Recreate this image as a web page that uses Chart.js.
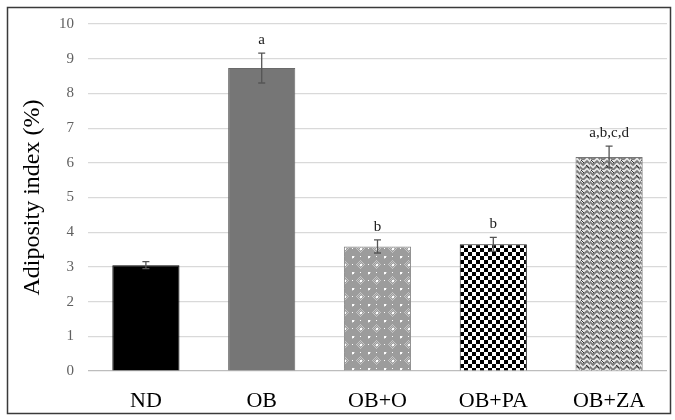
<!DOCTYPE html>
<html>
<head>
<meta charset="utf-8">
<script src="https://cdn.jsdelivr.net/npm/chart.js@4.4.1/dist/chart.umd.min.js"></script>
<style>
  html, body { margin: 0; padding: 0; background: #fff; }
  #wrap { width: 675px; height: 420px; position: relative; }
</style>
</head>
<body>
<div id="wrap"><canvas id="c" width="675" height="420"></canvas></div>
<script>
const groups = ["ND", "OB", "OB+O", "OB+PA", "OB+ZA"];
const adiposity = [3.05, 8.73, 3.59, 3.65, 6.17];
const errors = [0.10, 0.43, 0.19, 0.20, 0.31];
const letters = ["", "a", "b", "b", "a,b,c,d"];
const yTicks = [0, 1, 2, 3, 4, 5, 6, 7, 8, 9, 10];

const FONT = "'Liberation Serif', 'Times New Roman', serif";

function makeTile(w, h, draw) {
  const t = document.createElement("canvas");
  t.width = w; t.height = h;
  draw(t.getContext("2d"));
  return document.getElementById("c").getContext("2d").createPattern(t, "repeat");
}

// fine gray dither with white dots
const dotPattern = makeTile(16, 16, g => {
  g.fillStyle = "#9c9c9c";
  g.fillRect(0, 0, 16, 16);
  g.fillStyle = "#c4c4c4";
  for (let y = 0; y < 16; y++)
    for (let x = 0; x < 16; x++)
      if ((x + y) % 2 === 0 && (Math.abs(x - 8) + Math.abs(y - 8) < 5 || x + y < 3)) g.fillRect(x, y, 1, 1);
  g.fillStyle = "#ffffff";
  g.fillRect(0, 0, 2, 2);
  g.fillRect(8, 8, 2, 2);
  g.fillRect(8, 0, 1, 1);
  g.fillRect(0, 8, 1, 1);
});

// checkerboard
const checkPattern = makeTile(8, 8, g => {
  g.fillStyle = "#ffffff";
  g.fillRect(0, 0, 8, 8);
  g.fillStyle = "#000000";
  g.fillRect(0, 0, 4, 4);
  g.fillRect(4, 4, 4, 4);
});

// herringbone / zigzag
const zigPattern = makeTile(10, 10, g => {
  g.fillStyle = "#e6e6e6";
  g.fillRect(0, 0, 10, 10);
  g.strokeStyle = "#7a7a7a";
  g.lineWidth = 1.8;
  g.beginPath();
  g.moveTo(-1, 1); g.lineTo(3, 5); g.lineTo(7, 1); g.lineTo(11, 5);
  g.moveTo(-1, 6); g.lineTo(3, 10); g.lineTo(7, 6); g.lineTo(11, 10);
  g.stroke();
  g.strokeStyle = "#222222";
  g.lineWidth = 0.9;
  g.beginPath();
  g.moveTo(1, 0); g.lineTo(4, 3);
  g.moveTo(6, 5); g.lineTo(9, 8);
  g.stroke();
});

const barColors = ["#000000", "#767676", dotPattern, checkPattern, zigPattern];
const barBorders = ["#000000", "#6a6a6a", "#888888", "#222222", "#777777"];

const frame = {
  id: "frame",
  afterDraw(chart) {
    const g = chart.ctx;
    g.save();
    g.strokeStyle = "#3a3a3a";
    g.lineWidth = 1.5;
    g.strokeRect(7.5, 7.5, 663, 406);
    g.restore();
  }
};

const errorBars = {
  id: "errorBars",
  afterDatasetsDraw(chart) {
    const g = chart.ctx;
    const y = chart.scales.y;
    const meta = chart.getDatasetMeta(0);
    g.save();
    g.strokeStyle = "#555555";
    g.lineWidth = 1.3;
    meta.data.forEach((bar, i) => {
      const top = y.getPixelForValue(adiposity[i] + errors[i]);
      const bot = y.getPixelForValue(adiposity[i] - errors[i]);
      g.beginPath();
      g.moveTo(bar.x, top); g.lineTo(bar.x, bot);
      g.moveTo(bar.x - 3.5, top); g.lineTo(bar.x + 3.5, top);
      g.moveTo(bar.x - 3.5, bot); g.lineTo(bar.x + 3.5, bot);
      g.stroke();
      if (letters[i]) {
        g.fillStyle = "#1a1a1a";
        g.font = "15px " + FONT;
        g.textAlign = "center";
        g.textBaseline = "alphabetic";
        g.fillText(letters[i], bar.x, top - 9);
      }
    });
    g.restore();
  }
};

new Chart(document.getElementById("c"), {
  type: "bar",
  data: {
    labels: groups,
    datasets: [{
      data: adiposity,
      backgroundColor: barColors,
      borderColor: barBorders,
      borderWidth: 1,
      categoryPercentage: 1,
      barPercentage: 0.58,
    }],
  },
  options: {
    responsive: false,
    animation: false,
    layout: { padding: { top: 24, right: 8, left: 0, bottom: 0 } },
    plugins: { legend: { display: false }, tooltip: { enabled: false } },
    scales: {
      x: {
        grid: { display: false },
        border: { display: false },
        ticks: { color: "#000", padding: 9, font: { family: FONT, size: 22 } },
        afterFit(s) { s.height = 49; },
      },
      y: {
        min: 0,
        max: 10,
        afterBuildTicks(s) { s.ticks = yTicks.map(v => ({ value: v })); },
        grid: {
          drawTicks: false,
          color: c => (c.tick && c.tick.value === 0 ? "#bdbdbd" : "#d9d9d9"),
          lineWidth: 1.2,
        },
        border: { display: false },
        ticks: { color: "#606060", padding: 14, font: { family: FONT, size: 15 } },
        title: {
          display: true,
          text: "Adiposity index (%)",
          color: "#000",
          padding: { top: 18, bottom: 0 },
          font: { family: FONT, size: 24 },
        },
        afterFit(s) { s.width = 88; },
      },
    },
  },
  plugins: [frame, errorBars],
});
</script>
</body>
</html>
